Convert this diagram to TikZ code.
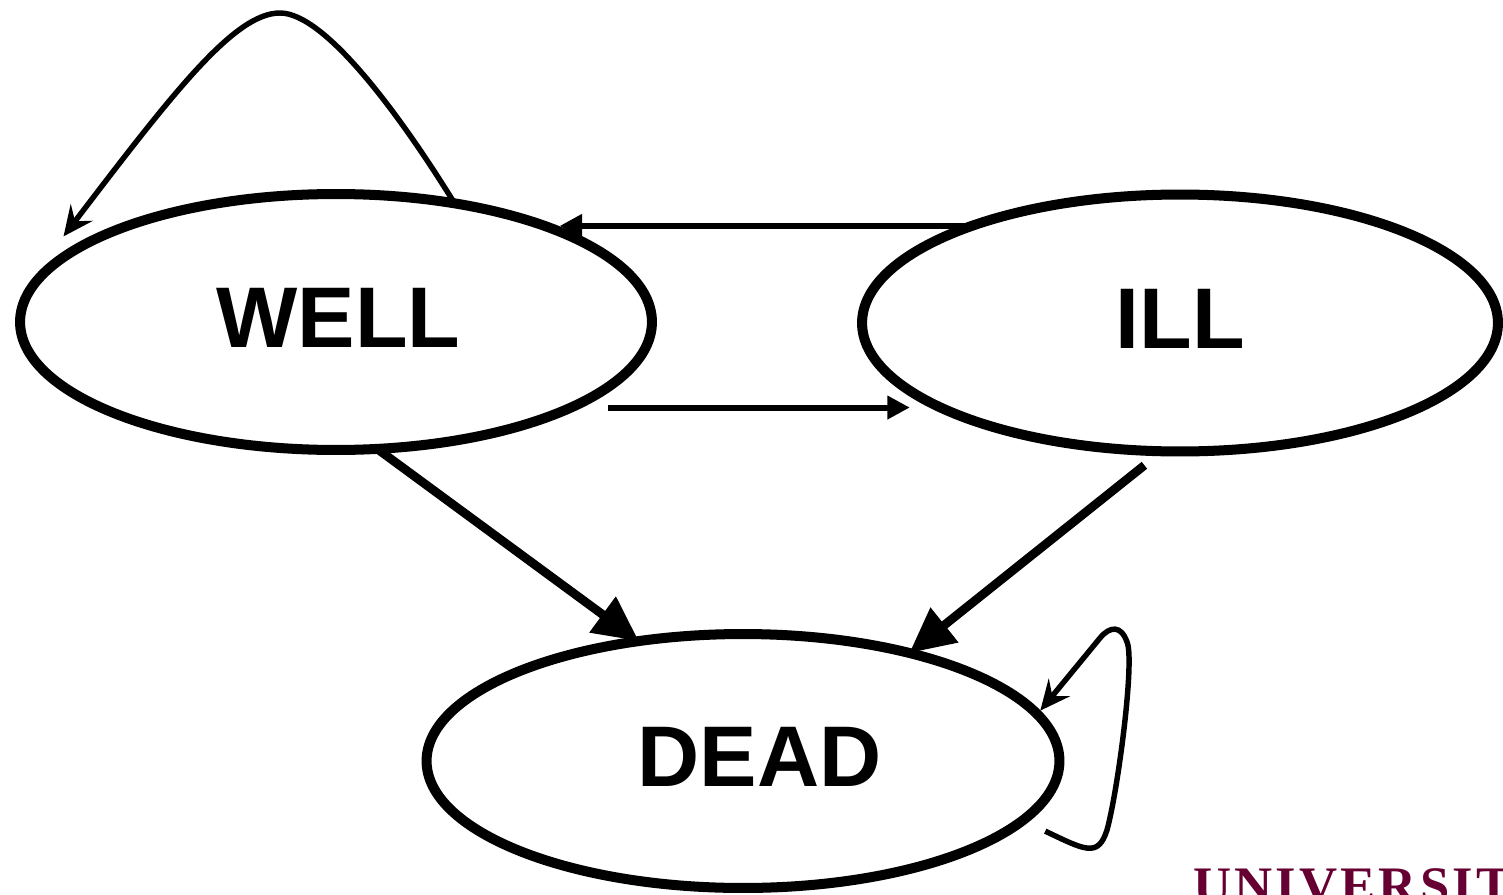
\documentclass[tikz,border=0pt]{standalone}
\usepackage{fontspec}
\setmainfont{Liberation Sans}
\newfontfamily\unifont[LetterSpace=6]{Liberation Serif}
\usetikzlibrary{arrows.meta,shapes.geometric}
\definecolor{maroon}{RGB}{102,0,51}
\tikzset{st/.style={ellipse, draw=black, line width=5.7pt, inner sep=0pt, outer sep=0pt,
            text depth=0.17cm, font=\fontsize{49}{49}\selectfont\bfseries},
         big/.style={line width=5pt, -{Triangle[length=0.9cm,width=0.85cm]}},
         mid/.style={line width=3.4pt, -{Triangle[length=0.45cm,width=0.45cm]}},
         lp/.style={line width=3.1pt, -{Stealth[length=0.6cm,width=0.55cm,inset=0.22cm]}}}

\begin{document}
\begin{tikzpicture}[x=0.02cm, y=-0.02cm]
\useasboundingbox (0,0) rectangle (1503,895);
\clip (0,0) rectangle (1503,895);
 % states
 \node[st, minimum width=12.64cm, minimum height=5.12cm] (well) at (336,322) {\hspace{0.1cm}WELL};
 \node[st, minimum width=12.72cm, minimum height=5.14cm] (ill) at (1180,323) {ILL\hspace{0.16cm}};
 \node[st, minimum width=12.66cm, minimum height=5.08cm] (dead) at (743,761) {\hspace{0.66cm}DEAD};

 % transitions between states
 \draw[mid] (ill.155) -- (ill.155 -| well.22);
 \draw[mid, shorten <=0.74cm, shorten >=0.68cm] (well.-20) -- (well.-20 -| ill.200);
 \draw[big] (well.-72) -- (dead.131);
 \draw[big, shorten <=0.45cm] (ill.-98) -- (dead.33);

 % staying in the same state
 \draw[lp] (well.45) .. controls (400,115) and (325,13) .. (280,13)
       .. controls (235,13) and (175,90) .. ([shift={(-0.18cm,0.3cm)}]well.165);
 \draw[lp, shorten <=0.5cm] (dead.-12) .. controls (1085,850) and (1098,858) .. (1107,830)
       .. controls (1118,790) and (1135,660) .. (1127,642)
       .. controls (1121,625) and (1110,626) .. (1100,638) -- ([shift={(0.25cm,-0.1cm)}]dead.11);

 \node[anchor=base west, inner sep=0pt, text=maroon, font=\unifont\bfseries\fontsize{30}{30}\selectfont]
   (uni) at (1193,903) {UNIVERSIT};
\end{tikzpicture}
\end{document}
